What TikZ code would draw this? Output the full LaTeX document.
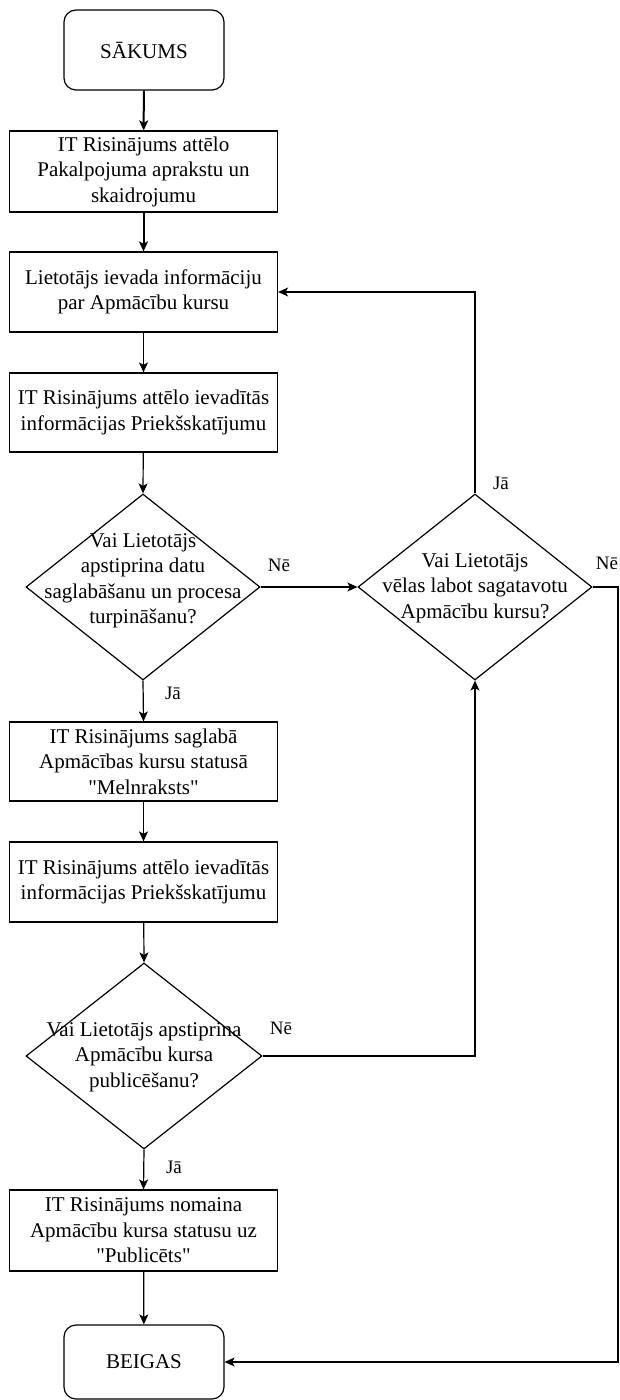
\documentclass[tikz,border=0pt]{standalone}
\usepackage{fontspec}
\setmainfont{Liberation Serif}
\usetikzlibrary{arrows.meta,shapes.geometric}
\begin{document}
\begin{tikzpicture}[x=1pt,y=-1pt,
  every node/.style={font=\fontsize{21}{25.5}\selectfont},
  box/.style={draw, line width=1.2pt, minimum width=268pt, minimum height=80pt, inner sep=0pt, align=center},
  term/.style={draw, rounded corners=12pt, line width=1.2pt, minimum width=160pt, minimum height=80pt, inner sep=0pt, align=center},
  dia/.style={draw, diamond, line width=1.2pt, minimum width=234pt, minimum height=186pt, inner sep=0pt},
  dtext/.style={align=center, inner sep=0pt},
  arr/.style={line width=1.2pt, -{Stealth[length=10pt,width=9pt,inset=2.5pt]}},
  thickarr/.style={line width=2pt, -{Stealth[length=10pt,width=9pt,inset=2.5pt]}},
  lab/.style={font=\fontsize{19}{22}\selectfont, inner sep=0pt},
]
\fill[white] (0,0) rectangle (620,1400);
\useasboundingbox (0,0) rectangle (620,1400);

\node[term] (start) at (144,50) {SĀKUMS};
\node[box, minimum height=81pt] (b1) at (143.5,171.5) {IT Risinājums attēlo\\Pakalpojuma aprakstu un\\skaidrojumu};
\node[box] (b2) at (143.5,292) {Lietotājs ievada informāciju\\par Apmācību kursu};
\node[box, minimum height=79pt] (b3) at (143.5,412.5) {IT Risinājums attēlo ievadītās\\informācijas Priekšskatījumu};
\node[dia] (d1) at (143,587) {};
\node[dtext] (t1) at (143,581) {Vai Lietotājs\\apstiprina datu\\saglabāšanu un procesa\\turpināšanu?};
\node[box, minimum height=79pt] (b4) at (143.5,761.5) {IT Risinājums saglabā\\Apmācības kursu statusā\\\textquotedbl Melnraksts\textquotedbl};
\node[box] (b5) at (143.5,882) {IT Risinājums attēlo ievadītās\\informācijas Priekšskatījumu};
\node[dia, minimum width=236pt] (d2) at (144,1056) {};
\node[dtext] (t2) at (144,1057) {Vai Lietotājs apstiprina\\Apmācību kursa\\publicēšanu?};
\node[box, minimum height=81pt] (b6) at (143.5,1230.5) {IT Risinājums nomaina\\Apmācību kursa statusu uz\\\textquotedbl Publicēts\textquotedbl};
\node[term, minimum height=74pt] (end) at (144,1362) {BEIGAS};
\node[dia] (d3) at (475,587) {};
\node[dtext] (t3) at (475,588) {Vai Lietotājs\\vēlas labot sagatavotu\\Apmācību kursu?};

\coordinate (c1) at (618,587);
\coordinate (c2) at (618,1362);

\draw[thickarr] (start) -- (b1);
\draw[thickarr] (b1) -- (b2);
\draw[arr] (b2) -- (b3);
\draw[arr] (b3) -- (d1.north);
\draw[arr] (d1.south) -- (b4.north);
\draw[arr] (b4) -- (b5);
\draw[arr] (b5) -- (d2.north);
\draw[arr] (d2.south) -- (b6.north);
\draw[arr] (b6) -- (end);
\draw[arr] (d1.east) -- (d3.west);
\draw[arr] (d3.north) |- (b2.east);
\draw[arr] (d3.east) -- (c1) -- (c2) -- (end.east);
\draw[arr] (d2.east) -| (d3.south);

\node[lab] (l1) at (279,565) {Nē};
\node[lab] (l2) at (173,693) {Jā};
\node[lab] (l3) at (501,483) {Jā};
\node[lab] (l4) at (607,563) {Nē};
\node[lab] (l5) at (281,1028) {Nē};
\node[lab] (l6) at (174,1167) {Jā};
\end{tikzpicture}
\end{document}
